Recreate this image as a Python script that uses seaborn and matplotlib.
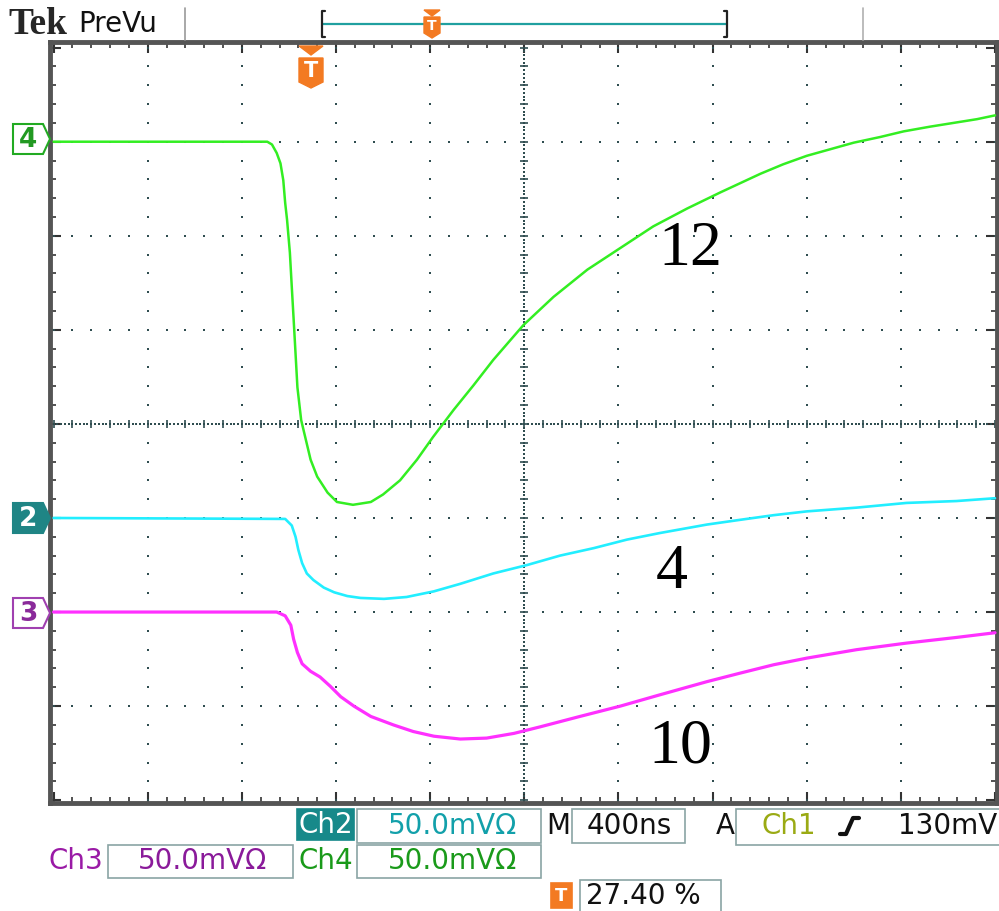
import numpy as np
import pandas as pd
import matplotlib
matplotlib.use("Agg")
import matplotlib.pyplot as plt
import seaborn as sns
from matplotlib.patches import Polygon, Rectangle
from matplotlib.lines import Line2D

# ---------------- data (screen divisions: time 0..10, level -4..4) ----------------
ch4_t = [0.0, 2.20, 2.27, 2.32, 2.37, 2.41, 2.44, 2.46, 2.48, 2.51, 2.53, 2.55, 2.57, 2.59,
         2.63, 2.68, 2.73, 2.80, 2.91, 3.01, 3.18, 3.37, 3.50, 3.68, 3.86, 4.03, 4.25, 4.46,
         4.67, 4.99, 5.31, 5.67, 6.02, 6.37, 6.73, 7.08, 7.51, 7.75, 8.00, 8.25, 8.50, 8.78,
         9.03, 9.31, 9.56, 9.81, 10.0]
ch4_v = [3.0, 3.0, 3.0, 2.97, 2.88, 2.77, 2.59, 2.35, 2.17, 1.82, 1.46, 1.11, 0.75, 0.39,
         0.04, -0.17, -0.38, -0.56, -0.73, -0.83, -0.86, -0.83, -0.75, -0.60, -0.38, -0.14,
         0.15, 0.41, 0.68, 1.05, 1.35, 1.64, 1.87, 2.10, 2.29, 2.46, 2.66, 2.76, 2.85, 2.92,
         2.99, 3.05, 3.11, 3.16, 3.20, 3.24, 3.28]

ch2_t = [0.0, 2.46, 2.53, 2.57, 2.60, 2.64, 2.69, 2.76, 2.87, 2.98, 3.12, 3.26, 3.51, 3.75,
         4.04, 4.32, 4.67, 5.03, 5.38, 5.74, 6.09, 6.44, 6.94, 7.29, 7.65, 8.00, 8.53, 9.06,
         9.59, 10.0]
ch2_v = [-1.0, -1.01, -1.08, -1.20, -1.34, -1.48, -1.59, -1.66, -1.74, -1.79, -1.83, -1.85,
         -1.86, -1.84, -1.78, -1.70, -1.59, -1.50, -1.40, -1.32, -1.23, -1.16, -1.07, -1.02,
         -0.97, -0.93, -0.89, -0.84, -0.82, -0.79]

ch3_t = [0.0, 2.37, 2.46, 2.52, 2.55, 2.59, 2.64, 2.73, 2.83, 2.94, 3.05, 3.19, 3.37, 3.61,
         3.82, 4.04, 4.32, 4.60, 4.89, 5.17, 5.59, 6.02, 6.44, 6.94, 7.29, 7.65, 8.00, 8.53,
         9.06, 9.59, 10.0]
ch3_v = [-2.0, -2.0, -2.04, -2.14, -2.29, -2.43, -2.55, -2.63, -2.69, -2.79, -2.90, -3.00,
         -3.11, -3.20, -3.27, -3.32, -3.35, -3.34, -3.29, -3.22, -3.11, -3.00, -2.88, -2.74,
         -2.65, -2.56, -2.49, -2.40, -2.33, -2.27, -2.22]

trace_labels = ["12", "4", "10"]
label_t = [6.76, 6.57, 6.66]
label_v = [1.85, -1.59, -3.44]

ch_names = ["Ch2", "Ch3", "Ch4"]
ch_scale = ["50.0mV\u03a9", "50.0mV\u03a9", "50.0mV\u03a9"]
timebase = "400ns"
trig_src = "Ch1"
trig_level = "130mV"
trig_pos = "27.40 %"

# ---------------- figure ----------------
W, H = 999, 911
sns.set_style("white")
plt.rcParams["font.family"] = ["DejaVu Sans"]
fig = plt.figure(figsize=(W / 100, H / 100), dpi=100)
fig.patch.set_facecolor("white")


def fx(x):
    return x / W


def fy(y):
    return 1 - y / H


def P(x, y):
    return (fx(x), fy(y))


L, R, T, B = 50, 997, 42, 803
ax = fig.add_axes([fx(L), fy(B), (R - L) / W, (B - T) / H])
ax.set_xlim(-0.038, 10.021)
ax.set_ylim(-4.03, 4.06)

# graticule dots
dot_c = "#2f4d50"
gx, gy = [], []
for xv in range(1, 10):
    if xv == 5:
        continue
    for yv in np.arange(-4, 4.001, 0.2):
        gx.append(xv); gy.append(yv)
for yv in range(-3, 4):
    if yv == 0:
        continue
    for xv in np.arange(0, 10.001, 0.2):
        gx.append(xv); gy.append(yv)
ax.scatter(gx, gy, s=2.4, marker="s", color=dot_c, linewidths=0, zorder=1)
cx = np.arange(0, 10.001, 0.04)
cy = np.arange(-4, 4.001, 0.04)
ax.scatter(cx, np.zeros_like(cx), s=1.3, marker="s", color=dot_c, linewidths=0, zorder=1)
ax.scatter(np.full_like(cy, 5), cy, s=1.3, marker="s", color=dot_c, linewidths=0, zorder=1)
tx = np.arange(0, 10.001, 0.2)
ty = np.arange(-4, 4.001, 0.2)
ax.scatter(tx, np.zeros_like(tx), s=36, marker="|", color=dot_c, linewidths=1.2, zorder=1)
ax.scatter(np.full_like(ty, 5), ty, s=36, marker="_", color=dot_c, linewidths=1.2, zorder=1)

# frame ticks
ax.set_xticks(np.arange(0, 10.001, 1))
ax.set_xticks(np.arange(0, 10.001, 0.2), minor=True)
ax.set_yticks(np.arange(-4, 4.001, 1))
ax.set_yticks(np.arange(-4, 4.001, 0.2), minor=True)
ax.tick_params(which="both", direction="in", top=True, right=True, bottom=True, left=True,
               labelbottom=False, labelleft=False, color="#333333")
ax.tick_params(which="major", length=8, width=1.5)
ax.tick_params(which="minor", length=4, width=1.2)
for s in ax.spines.values():
    s.set_linewidth(3.5)
    s.set_color("#555555")

# traces
df4 = pd.DataFrame({"t": ch4_t, "v": ch4_v})
df2 = pd.DataFrame({"t": ch2_t, "v": ch2_v})
df3 = pd.DataFrame({"t": ch3_t, "v": ch3_v})
sns.lineplot(data=df4, x="t", y="v", ax=ax, color="#33ee22", linewidth=1.8, sort=False,
             estimator=None, zorder=3)
sns.lineplot(data=df2, x="t", y="v", ax=ax, color="#22eeff", linewidth=1.9, sort=False,
             estimator=None, zorder=3)
sns.lineplot(data=df3, x="t", y="v", ax=ax, color="#ff30ff", linewidth=2.3, sort=False,
             estimator=None, zorder=3)
ax.set_xlabel("")
ax.set_ylabel("")

for lab, t, v in zip(trace_labels, label_t, label_v):
    ax.text(t, v, lab, ha="center", va="center", fontsize=46,
            family="Liberation Serif", color="black", zorder=4)

# ---------------- header ----------------
fig.text(fx(8), fy(25), "Tek", fontsize=27, family="Liberation Serif", weight="bold",
         ha="left", va="center")
fig.text(fx(78), fy(24), "PreVu", fontsize=20, ha="left", va="center", color="#111111")
fig.add_artist(Line2D([fx(185), fx(185)], [fy(8), fy(40)], color="#9a9a9a", lw=1.2))
fig.add_artist(Line2D([fx(863), fx(863)], [fy(8), fy(40)], color="#b0b0b0", lw=1.2))
fig.add_artist(Line2D([fx(323), fx(727)], [fy(24), fy(24)], color="#20a0a0", lw=1.6))
fig.add_artist(Line2D([fx(325), fx(322), fx(322), fx(325)], [fy(11), fy(11), fy(37), fy(37)],
                      color="#222222", lw=1.6))
fig.add_artist(Line2D([fx(724), fx(727), fx(727), fx(724)], [fy(11), fy(11), fy(37), fy(37)],
                      color="#222222", lw=1.6))

orange = "#f37a22"


def tmarker(cx, top, w, tri_h, body_top, body_bot, tip, fs):
    fig.add_artist(Polygon([P(cx - w / 2, top), P(cx + w / 2, top), P(cx, top + tri_h)],
                           closed=True, color=orange, transform=fig.transFigure, zorder=5))
    fig.add_artist(Polygon([P(cx - w / 2, body_top), P(cx + w / 2, body_top),
                            P(cx + w / 2, body_bot), P(cx, tip), P(cx - w / 2, body_bot)],
                           closed=True, color=orange, transform=fig.transFigure, zorder=5))
    fig.text(fx(cx), fy((body_top + body_bot) / 2 + 1), "T", color="white", fontsize=fs,
             weight="bold", ha="center", va="center", zorder=6)


tmarker(432, 10, 16, 6, 17, 33, 38, 10)
tmarker(311, 46, 24, 9, 58, 82, 88, 15)


def chmarker(yc, label, edge, face, txtc):
    pts = [P(13, yc - 15), P(43, yc - 15), P(50, yc), P(43, yc + 15), P(13, yc + 15)]
    fig.add_artist(Polygon(pts, closed=True, facecolor=face, edgecolor=edge, lw=1.5,
                           transform=fig.transFigure))
    fig.text(fx(28), fy(yc + 1), label, color=txtc, fontsize=19, weight="bold",
             ha="center", va="center")


chmarker(139, "4", "#22aa22", "white", "#229922")
chmarker(518, "2", "#1f8585", "#1f8585", "white")
chmarker(613, "3", "#a040b0", "white", "#8a2a9a")

# ---------------- readouts ----------------
box_edge = "#8aa4a4"


def box(x0, y0, x1, y1, face="white", edge=box_edge, lw=1.2):
    fig.add_artist(Rectangle(P(x0, y1), (x1 - x0) / W, (y1 - y0) / H, facecolor=face,
                             edgecolor=edge, lw=lw, transform=fig.transFigure))


fs = 20
box(297, 809, 354, 840, face="#17898a", edge="#17898a")
fig.text(fx(325.5), fy(825), ch_names[0], color="white", fontsize=fs, ha="center", va="center")
box(357, 809, 541, 843)
fig.text(fx(452), fy(826), ch_scale[0], color="#12a0aa", fontsize=fs, ha="center", va="center")
fig.text(fx(558), fy(826), "M", color="#111111", fontsize=fs, ha="center", va="center")
box(572, 809, 685, 843)
fig.text(fx(629), fy(826), timebase, color="#111111", fontsize=fs, ha="center", va="center")
fig.text(fx(725), fy(826), "A", color="#111111", fontsize=fs, ha="center", va="center")
box(736, 809, 1002, 845)
fig.text(fx(789), fy(826), trig_src, color="#9aaa14", fontsize=fs, ha="center", va="center")
fig.add_artist(Line2D([fx(840), fx(846), fx(853), fx(859)],
                      [fy(834), fy(834), fy(818), fy(818)], color="#111111", lw=3))
fig.text(fx(997), fy(826), trig_level, color="#111111", fontsize=fs, ha="right", va="center")
fig.text(fx(76), fy(861), ch_names[1], color="#9a1aa6", fontsize=fs, ha="center", va="center")
box(108, 845, 293, 878)
fig.text(fx(203), fy(861), ch_scale[1], color="#8a1a9a", fontsize=fs, ha="center", va="center")
fig.text(fx(325.5), fy(861), ch_names[2], color="#1a9a1a", fontsize=fs, ha="center", va="center")
box(357, 845, 541, 878)
fig.text(fx(452), fy(861), ch_scale[2], color="#1a9a1a", fontsize=fs, ha="center", va="center")
box(551, 883, 572, 908, face=orange, edge=orange)
fig.text(fx(561.5), fy(896), "T", color="white", fontsize=13, weight="bold",
         ha="center", va="center")
box(580, 880, 721, 912)
fig.text(fx(586), fy(896), trig_pos, color="#111111", fontsize=fs, ha="left", va="center")

fig.savefig("out.png", dpi=100, facecolor="white")
